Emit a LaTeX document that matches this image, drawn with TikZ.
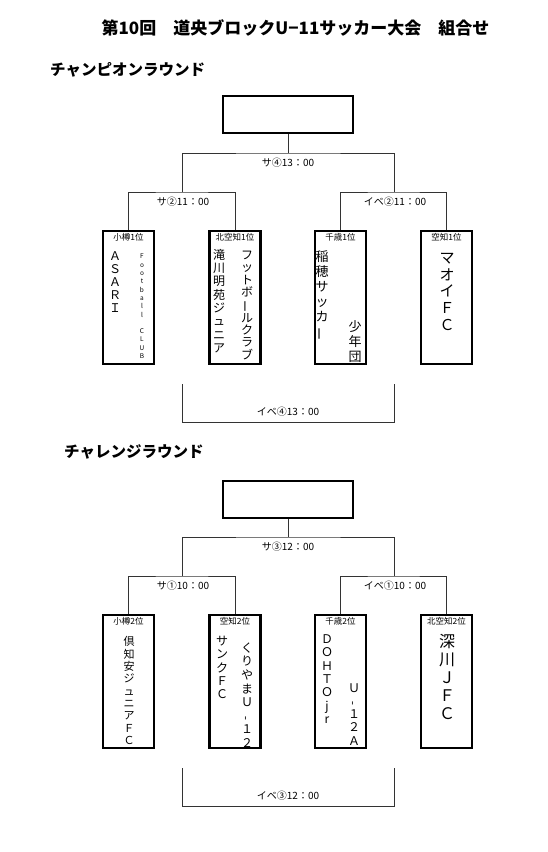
\documentclass[tikz,border=0pt]{standalone}
\usepackage{fontspec}
\setmainfont{Noto Sans CJK JP}
\usepackage{graphicx}
\newcommand{\vbar}{\rotatebox[origin=c]{90}{ー}}
\newcommand{\vhy}{\rotatebox[origin=c]{90}{-}}
\tikzset{
  conn/.style={draw=black!80, line width=0.9pt},
  teambox/.style={draw=black, line width=2.2pt, minimum width=51pt, minimum height=133pt, inner sep=0pt},
  topbox/.style={draw=black, line width=2.2pt, minimum width=130pt, minimum height=37pt, inner sep=0pt},
  rank/.style={font=\fontsize{8.5}{9}\selectfont, inner sep=0pt},
  vt/.style args={#1/#2}{anchor=north, inner sep=0pt, align=center, font=\fontsize{#1}{#2}\selectfont},
  match/.style={font=\fontsize{10}{11}\selectfont, inner sep=0pt},
  heading/.style={anchor=west, inner sep=0pt, font=\bfseries\fontsize{15.5}{17}\selectfont},
}
\begin{document}
\begin{tikzpicture}[x=1pt, y=-1pt]
\useasboundingbox (0,0) rectangle (548,852);
\fill[white] (0,0) rectangle (548,852);

\node[font=\bfseries\fontsize{17}{19}\selectfont, inner sep=0pt] (title) at (295.5,28) {第10回　道央ブロックU−11サッカー大会　組合せ};

% ===== Champion round =====
\node[heading] (hc) at (50,70) {チャンピオンラウンド};
\node[topbox] (cTop) at (288,114.5) {};
\node[teambox] (cA) at (128.5,297.5) {};
\node[teambox] (cB) at (235,297.5) {};
\node[teambox] (cC) at (340.5,297.5) {};
\node[teambox] (cD) at (446.5,297.5) {};
\coordinate (cJ) at (288,153);
\coordinate (cm1) at (182,192);
\coordinate (cm2) at (394,192);
\draw[conn] (cTop.south) -- (cJ);
\draw[conn] (cm1) |- (cJ) -| (cm2);
\draw[conn] (cA.north) |- (cm1) -| (cB.north);
\draw[conn] (cC.north) |- (cm2) -| (cD.north);
\coordinate (cb1) at (182,384);
\coordinate (cb2) at (182,422);
\coordinate (cb3) at (394,422);
\coordinate (cb4) at (394,384);
\draw[conn] (cb1) -- (cb2) -- (cb3) -- (cb4);
\node[match] (cl1) at (288,163) {サ④13：00};
\node[match] (cl2) at (183,202) {サ②11：00};
\node[match] (cl3) at (395,202) {イベ②11：00};
\node[match] (cl4) at (288,412) {イベ④13：00};

\node[rank] (cAr) at (128.5,237) {小樽1位};
\node[rank] (cBr) at (235,237) {北空知1位};
\node[rank] (cCr) at (340.5,237) {千歳1位};
\node[rank] (cDr) at (446.5,237) {空知1位};

\node[vt=12/13] (cA1) at (115,251) {Ａ\\Ｓ\\Ａ\\Ｒ\\Ｉ};
\node[vt=6.5/8.3] (cA2) at (142,254) {F\\o\\o\\t\\b\\a\\l\\l\\[8.3pt]C\\L\\U\\B};
\node[vt=12/13.3] (cB1) at (219,249) {滝\\川\\明\\苑\\ジ\\ュ\\ニ\\ア};
\node[vt=12/12.3] (cB2) at (247,251) {フ\\ッ\\ト\\ボ\\\vbar\\ル\\ク\\ラ\\ブ};
\node[vt=13/15] (cC1) at (322,250.5) {稲\\穂\\サ\\ッ\\カ\\\vbar};
\node[vt=13/15] (cC2) at (355,320.5) {少\\年\\団};
\node[vt=15/16.7] (cD1) at (447,253) {マ\\オ\\イ\\Ｆ\\Ｃ};

% ===== Challenge round =====
\node[heading] (hl) at (64,452) {チャレンジラウンド};
\node[topbox] (lTop) at (288,499.5) {};
\node[teambox] (lA) at (128.5,681.5) {};
\node[teambox] (lB) at (235,681.5) {};
\node[teambox] (lC) at (340.5,681.5) {};
\node[teambox] (lD) at (446.5,681.5) {};
\coordinate (lJ) at (288,537);
\coordinate (lm1) at (182,576);
\coordinate (lm2) at (394,576);
\draw[conn] (lTop.south) -- (lJ);
\draw[conn] (lm1) |- (lJ) -| (lm2);
\draw[conn] (lA.north) |- (lm1) -| (lB.north);
\draw[conn] (lC.north) |- (lm2) -| (lD.north);
\coordinate (lb1) at (182,768);
\coordinate (lb2) at (182,806);
\coordinate (lb3) at (394,806);
\coordinate (lb4) at (394,768);
\draw[conn] (lb1) -- (lb2) -- (lb3) -- (lb4);
\node[match] (ll1) at (288,547) {サ③12：00};
\node[match] (ll2) at (183,586) {サ①10：00};
\node[match] (ll3) at (395,586) {イベ①10：00};
\node[match] (ll4) at (288,796) {イベ③12：00};

\node[rank] (lAr) at (128.5,621) {小樽2位};
\node[rank] (lBr) at (235,621) {空知2位};
\node[rank] (lCr) at (340.5,621) {千歳2位};
\node[rank] (lDr) at (446.5,621) {北空知2位};

\node[vt=11/12.3] (lA1) at (129,636.5) {倶\\知\\安\\ジ\\ュ\\ニ\\ア\\Ｆ\\Ｃ};
\node[vt=12/13.3] (lB1) at (222,636) {サ\\ン\\ク\\Ｆ\\Ｃ};
\node[vt=12/13.6] (lB2) at (247,642.5) {く\\り\\や\\ま\\Ｕ\\\vhy\\１\\２};
\node[vt=12/13.3] (lC1) at (327,634.5) {Ｄ\\Ｏ\\Ｈ\\Ｔ\\Ｏ\\j\\r};
\node[vt=12/13.3] (lC2) at (354,683) {Ｕ\\\vhy\\１\\２\\Ａ};
\node[vt=16/18] (lD1) at (447,634) {深\\川\\Ｊ\\Ｆ\\Ｃ};
\end{tikzpicture}
\end{document}
